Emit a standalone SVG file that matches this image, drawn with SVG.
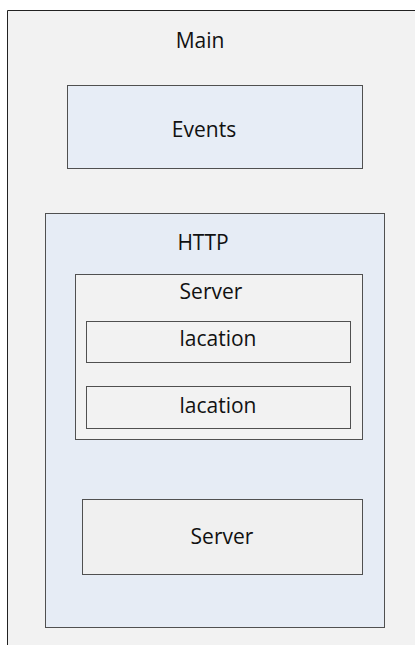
<svg xmlns="http://www.w3.org/2000/svg" width="415" height="645" viewBox="0 0 415 645">
<style>
.box{stroke:#505050;stroke-width:1}
.lbl{font-family:"Open Sans","Noto Sans",sans-serif;font-size:21px;fill:#111;text-anchor:middle}
</style>
<rect x="0" y="0" width="415" height="645" fill="#ffffff"/>
<g id="main">
<path d="M7.5,646 V10.5 H416" fill="#f2f2f2" stroke="#222" stroke-width="1"/>
<rect x="8" y="11" width="408" height="635" fill="#f2f2f2"/>
<text class="lbl" x="200" y="48">Main</text>
</g>
<g id="events">
<rect class="box" x="67.5" y="85.5" width="295" height="83" fill="#e7edf6"/>
<text class="lbl" x="204" y="137">Events</text>
</g>
<g id="http">
<rect class="box" x="45.5" y="213.5" width="339" height="414" fill="#e6ecf5"/>
<text class="lbl" x="203" y="250">HTTP</text>
</g>
<g id="server1">
<rect class="box" x="75.5" y="274.5" width="287" height="165" fill="#f2f2f2" stroke="#666"/>
<text class="lbl" x="211" y="299">Server</text>
</g>
<g id="location1">
<rect class="box" x="86.5" y="321.5" width="264" height="41" fill="#f2f2f2" stroke="#333"/>
<text class="lbl" x="218" y="346">lacation</text>
</g>
<g id="location2">
<rect class="box" x="86.5" y="386.5" width="264" height="42" fill="#f2f2f2" stroke="#333"/>
<text class="lbl" x="218" y="413">lacation</text>
</g>
<g id="server2">
<rect class="box" x="82.5" y="499.5" width="280" height="75" fill="#f0f0f0"/>
<text class="lbl" x="222" y="544">Server</text>
</g>
<g id="connectors"></g>
</svg>
